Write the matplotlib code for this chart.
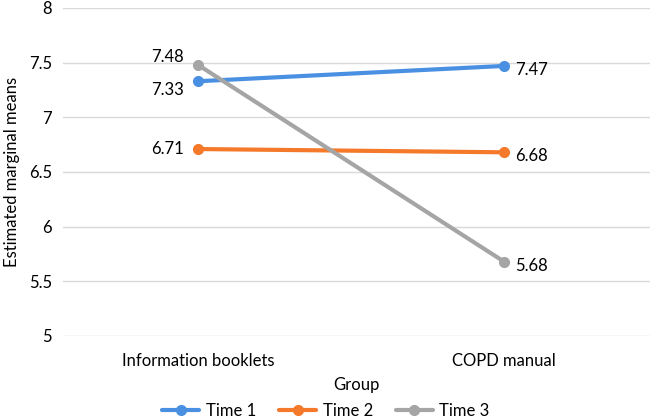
import matplotlib
matplotlib.use("Agg")
import matplotlib.pyplot as plt

plt.rcParams['font.family'] = ['Lato', 'DejaVu Sans']

groups = ["Information booklets", "COPD manual"]
series_names = ["Time 1", "Time 2", "Time 3"]
time1 = [7.33, 7.47]
time2 = [6.71, 6.68]
time3 = [7.48, 5.68]
colors = ["#4A90E2", "#F4792A", "#A5A5A5"]

fig = plt.figure(figsize=(6.52, 4.20), dpi=100)
ax = fig.add_axes([0.0966, 0.2, 0.9004, 0.781])

xs = [0, 1]
all_series = [time1, time2, time3]
for name, vals, c in zip(series_names, all_series, colors):
    ax.plot(xs, vals, color=c, lw=3, marker='o', ms=7, label=name, solid_capstyle='round')

fs = 12
ax.annotate(f"{time1[0]:.2f}", (0, time1[0]), xytext=(-10, -6), textcoords='offset points', ha='right', va='center', fontsize=fs)
ax.annotate(f"{time3[0]:.2f}", (0, time3[0]), xytext=(-10, 6), textcoords='offset points', ha='right', va='center', fontsize=fs)
ax.annotate(f"{time2[0]:.2f}", (0, time2[0]), xytext=(-10, 0), textcoords='offset points', ha='right', va='center', fontsize=fs)
for vals in all_series:
    ax.annotate(f"{vals[1]:.2f}", (1, vals[1]), xytext=(8, -3), textcoords='offset points', ha='left', va='center', fontsize=fs)

ax.set_ylim(5, 8)
ax.set_yticks([5, 5.5, 6, 6.5, 7, 7.5, 8])
ax.set_yticklabels(["5", "5.5", "6", "6.5", "7", "7.5", "8"], fontsize=fs)
ax.set_xlim(-0.441, 1.477)
ax.set_xticks(xs)
ax.set_xticklabels(groups, fontsize=fs)
ax.tick_params(length=0, pad=8)
ax.tick_params(axis='x', pad=12)
ax.grid(axis='y', color='#D9D9D9', lw=1)
ax.set_axisbelow(True)
for s in ax.spines.values():
    s.set_visible(False)
ax.set_ylabel("Estimated marginal means", fontsize=fs, labelpad=6)
ax.set_xlabel("Group", fontsize=fs, labelpad=6)
fig.legend(loc='lower center', ncol=3, frameon=False, fontsize=fs, bbox_to_anchor=(0.5, -0.022),
           handlelength=2.2, columnspacing=1.4, handletextpad=0.4, borderaxespad=0.2)

fig.savefig("out.png", dpi=100)
